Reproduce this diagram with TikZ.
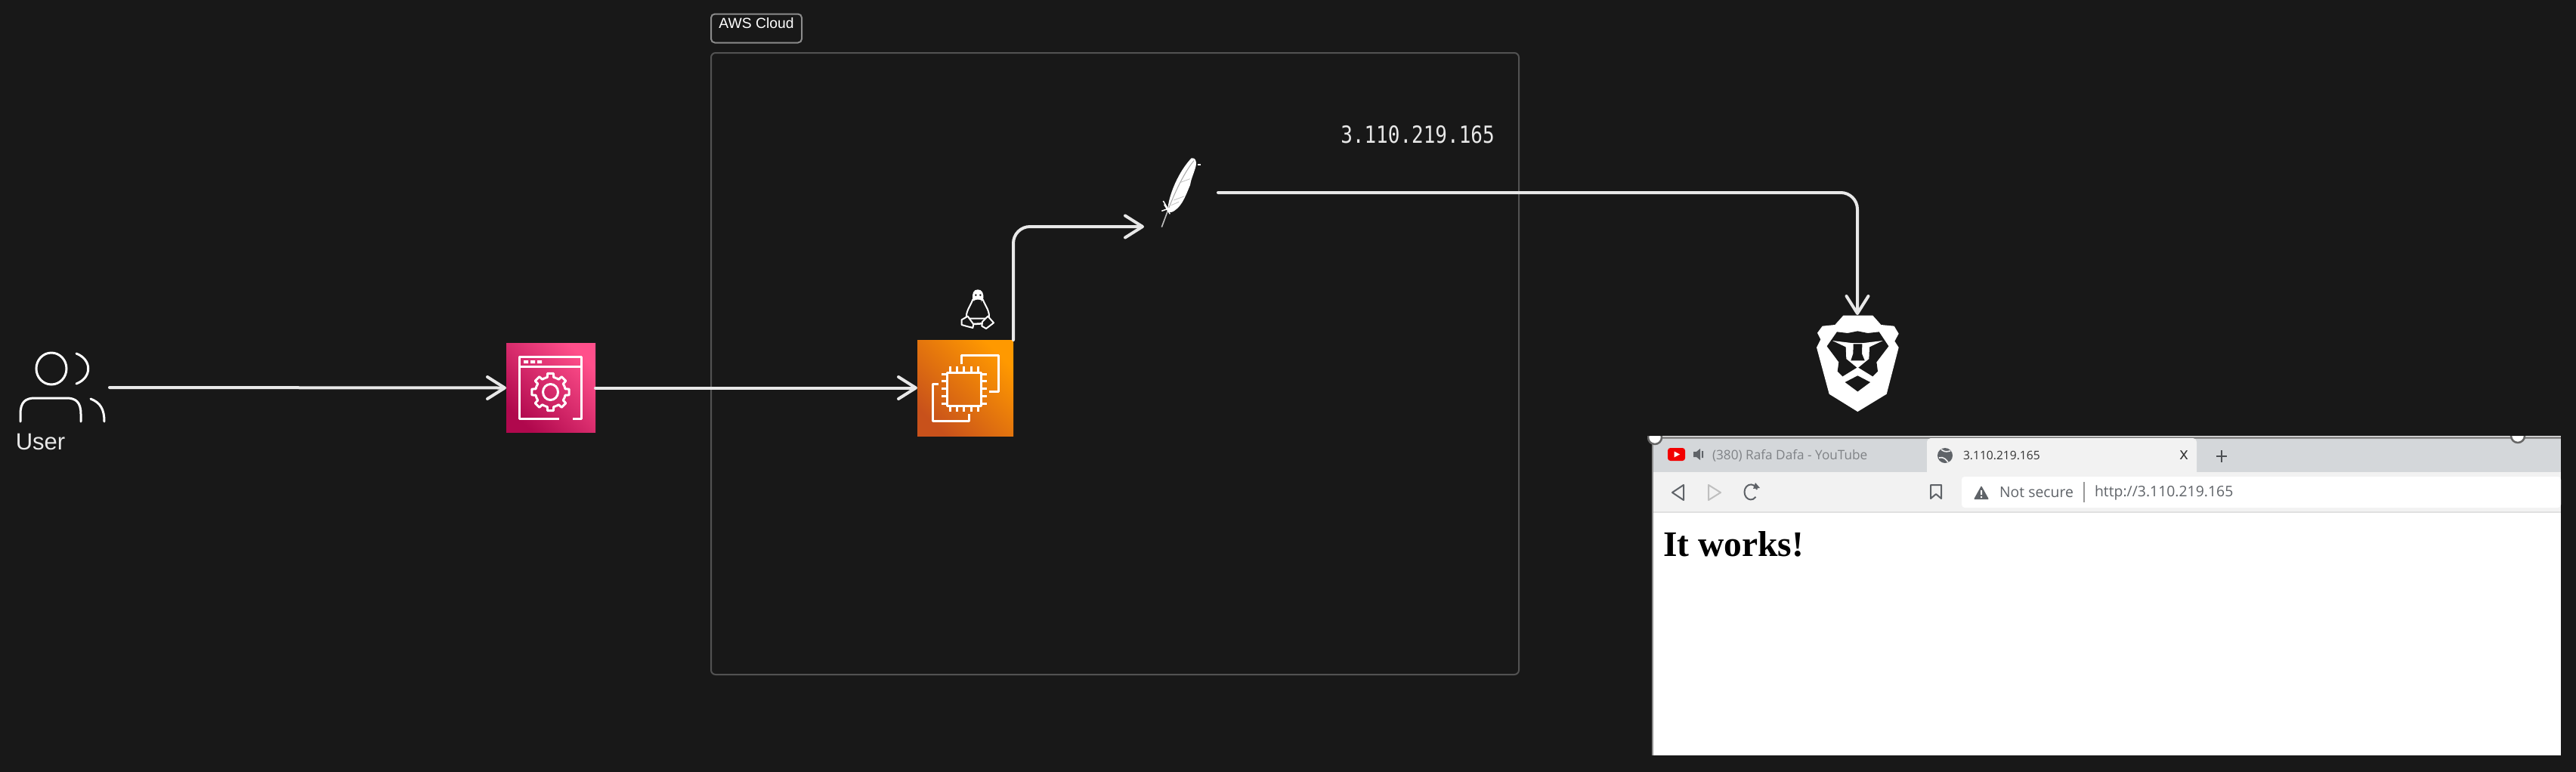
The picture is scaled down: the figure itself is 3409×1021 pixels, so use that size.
\documentclass[tikz,border=0pt]{standalone}
\usepackage{fontspec}
\usepackage{graphicx}
\setmainfont{Liberation Sans}
\newfontfamily\monofam{DejaVu Sans Mono}
\newfontfamily\uifam{Open Sans}
\newfontfamily\serifam{Liberation Serif}
\usetikzlibrary{arrows.meta}
\definecolor{bgdark}{HTML}{181818}
\definecolor{ink}{HTML}{E8E8E8}
\definecolor{tabgrey}{HTML}{D4D7DA}
\definecolor{barlight}{HTML}{F2F2F2}
\definecolor{uigrey}{HTML}{5F6368}
\definecolor{gwlow}{HTML}{B0084D}
\definecolor{gwhigh}{HTML}{FF4F8B}
\definecolor{eclow}{HTML}{C8511B}
\definecolor{echigh}{HTML}{FF9900}
\tikzset{
  flow/.style={draw=ink,line width=4pt,line cap=round,-{Straight Barb[length=23pt,width=29pt,line width=4pt,round]}},
  iconline/.style={draw=white,line width=3pt,line join=round,fill=none},
  sketch/.style={draw=white,line width=3pt,line cap=round,fill=none},
  awsbox/.style={inner sep=0pt,outer sep=0pt,minimum size=#1},
  ghost/.style={inner sep=0pt,outer sep=0pt},
  zoomA/.style={shift={(1180,180)},x=.33333pt,y=-.33333pt},
  zoomB/.style={shift={(2350,380)},x=.33333pt,y=-.33333pt},
  uitext/.style={inner sep=0pt,outer sep=0pt,anchor=west},
}
\begin{document}
\begin{tikzpicture}[x=1pt,y=-1pt]
\useasboundingbox (0,0) rectangle (3409,1021);
\fill[bgdark] (-5,-5) rectangle (3414,1026);

% cloud frame and label
\node[ghost,draw=white!50!bgdark,line width=2pt,rounded corners=5pt,minimum width=120pt,minimum height=38pt] (cloudlabel) at (1001,37.5) {};
\node[ghost,text=white] (cloudtext) at (1001,31) {\fontsize{19.3}{22}\selectfont AWS Cloud};
\node[ghost,draw=white!25!bgdark,line width=2pt,rounded corners=6pt,minimum width=1069pt,minimum height=823pt] (cloud) at (1475.5,481.5) {};
\node[ghost,text=ink] (ipaddr) at (1876,178.5) {\scalebox{1}[1.2]{\monofam\fontsize{26}{28}\selectfont 3.110.219.165}};

% user
\node[ghost,minimum width=118pt,minimum height=91pt] (usr) at (86,513) {};
\draw[sketch] (68,488) ellipse (20 and 21);
\draw[sketch] (101,468) .. controls (122,476) and (122,500) .. (101,508);
\draw[sketch] (27,558) -- (27,548) .. controls (27,532) and (34,527) .. (46,527) -- (88,527) .. controls (100,527) and (107,532) .. (107,548) -- (107,558);
\draw[sketch] (120,528) .. controls (133,533) and (138,542) .. (138,558);
\node[ghost,text=ink] (usrlabel) at (53.5,585) {\fontsize{31}{34}\selectfont User};

% gateway box
\node[awsbox=118pt,bottom color=gwlow,top color=gwhigh,shading angle=-45] (gw) at (729,513.5) {};
\draw[iconline] (740,554) -- (687,554) -- (687,472) -- (769,472) -- (769,554) -- (758,554);
\draw[iconline] (687,485) -- (769,485);
\fill[white] (693,477) rectangle (699,481) (702,477) rectangle (708,481) (711,477) rectangle (717,481);
\begin{scope}[shift={(728.5,519)}]
  \draw[iconline] (0,0) ellipse (10 and 10.5);
  \foreach \a in {0,45,...,315}
    \draw[iconline] (\a-22.5:20) -- (\a-12:20) -- (\a-9:25) -- (\a+9:25) -- (\a+12:20) -- (\a+22.5:20);
\end{scope}

% ec2 box
\node[awsbox=127pt,bottom color=eclow,top color=echigh,shading angle=-45] (ec2) at (1277.5,513.5) {};
\draw[iconline] (1272,482) -- (1272,470) -- (1321,470) -- (1321,518) -- (1309,518);
\draw[iconline] (1242,508) -- (1234,508) -- (1234,557) -- (1282,557) -- (1282,548);
\draw[iconline] (1253,493) rectangle (1298,537);
\foreach \p in {1257,1266,1275.5,1285,1294}
  \draw[iconline] (\p,485) -- (\p,493) (\p,537) -- (\p,545);
\foreach \p in {495,504,514,524,534}
  \draw[iconline] (1246,\p) -- (1253,\p) (1298,\p) -- (1306,\p);

% penguin
\begin{scope}[zoomA]
  \draw[draw=white,line width=2pt,fill=bgdark,line join=round] (322,650) .. controls (310,680) and (292,700) .. (298,725) -- (385,725) .. controls (392,700) and (375,680) .. (362,650) -- cycle;
  \fill[white] (342,610) .. controls (325,610) and (318,625) .. (322,650) .. controls (325,665) and (360,665) .. (363,650) .. controls (368,625) and (358,610) .. (342,610) -- cycle;
  \fill[bgdark] (326,655) .. controls (335,648) and (350,648) .. (358,655) .. controls (350,668) and (335,668) .. (326,655) -- cycle;
  \fill[bgdark] (334,632) circle (4) (352,632) circle (4);
  \draw[draw=white,line width=2pt,fill=bgdark,line join=round] (278,730) -- (302,716) -- (325,748) -- (322,762) -- (295,755) -- (278,750) -- cycle;
  \draw[draw=white,line width=2pt,fill=bgdark,line join=round] (360,738) -- (382,716) -- (405,742) -- (375,765) -- (358,755) -- cycle;
  \draw[draw=white,line width=2.5pt] (325,747) -- (360,745);
\end{scope}

% feather
\begin{scope}[zoomA]
  \fill[white] (1095,300) .. controls (1098,235) and (1140,140) .. (1190,88) .. controls (1205,85) and (1212,100) .. (1208,118) .. controls (1200,150) and (1190,165) .. (1185,195) .. controls (1170,230) and (1155,275) .. (1125,295) .. controls (1115,303) and (1105,306) .. (1095,300) -- cycle;
  \draw[draw=white!65!black,line width=1pt] (1097,295) .. controls (1125,220) and (1165,140) .. (1200,98);
  \draw[draw=white!75!black,line width=.8pt] (1145,185) -- (1185,170) (1120,255) -- (1160,240) (1110,275) -- (1140,262);
  \draw[draw=white!75!black,line width=1.6pt] (1072,362) -- (1097,295);
  \draw[draw=white,line width=1.5pt] (1078,258) -- (1100,295) (1072,298) -- (1108,285) (1082,272) -- (1105,310);
  \fill[white] (1216,112) rectangle (1228,118);
\end{scope}
\coordinate (apacheIn) at (1514,300);
\coordinate (apacheOut) at (1612,255);

% brave
\node[ghost,minimum width=108pt,minimum height=128pt] (brave) at (2458,481) {};
\begin{scope}[zoomB]
  \fill[white] (268,113) -- (385,113) -- (418,150) -- (470,155) -- (488,185) -- (472,215) -- (488,240) -- (440,425) -- (325,495) -- (212,425) -- (162,240) -- (178,208) -- (165,182) -- (185,155) -- (235,150) -- cycle;
  \fill[bgdark] (243,178) -- (285,183) -- (325,175) -- (365,183) -- (410,178) -- (448,235) -- (400,298) -- (405,335) -- (385,355) -- (325,318) -- (265,355) -- (245,335) -- (250,298) -- (203,235) -- cycle;
  \fill[white] (225,213) -- (300,222) -- (350,222) -- (425,213) -- (372,238) -- (370,285) -- (325,322) -- (280,285) -- (278,238) -- cycle;
  \fill[bgdark] (308,226) -- (343,226) -- (342,265) -- (353,292) -- (298,292) -- (307,265) -- cycle;
  \fill[bgdark] (275,378) -- (325,352) -- (375,378) -- (325,415) -- cycle;
\end{scope}

% browser screenshot
\fill[white] (2186,577) rectangle (3389,1000);
\fill[tabgrey] (2188,581) rectangle (3389,625);
\fill[barlight] (2188,625) rectangle (3389,678);
\fill[white] (2596,631) [rounded corners=4pt] -- (3389,631) -- (3389,672) -- (2596,672) -- cycle;
\fill[white!88!black] (2188,677) rectangle (3389,679);
\fill[white!55!black] (2188,578) rectangle (3389,581);
\fill[white!55!black] (2186,578) rectangle (2188,1000);
\fill[barlight,rounded corners=5pt] (2550,630) -- (2550,580) -- (2907,580) -- (2907,630) -- cycle;
\fill[barlight] (2550,625) rectangle (2907,630);
\begin{scope}
  \clip (2180,577) rectangle (3395,600);
  \draw[draw=white!40!black,line width=2.5pt,fill=white] (3332,577) circle (9);
  \draw[draw=white!40!black,line width=2.5pt,fill=white] (2190,579) circle (9);
\end{scope}
\fill[red!95!black,rounded corners=3.5pt] (2207,593) rectangle (2230,610);
\fill[white] (2215.5,597.5) -- (2223,601.5) -- (2215.5,605.5) -- cycle;
\fill[uigrey] (2241,598) -- (2245,598) -- (2250,594) -- (2250,609) -- (2245,605) -- (2241,605) -- cycle (2252,597) rectangle (2254,606);
\node[uitext,text=uigrey!80!white] (tabone) at (2266,603) {\uifam\fontsize{17.2}{19}\selectfont (380) Rafa Dafa - YouTube};
\fill[uigrey] (2574,603) circle (10);
\draw[draw=barlight,line width=1.6pt] (2569,595) .. controls (2575,600) and (2578,597) .. (2581,597) (2566,606) .. controls (2572,604) and (2576,609) .. (2578,612);
\node[uitext,text=black!80!white] (tabtwo) at (2598,603) {\uifam\fontsize{15.6}{18}\selectfont 3.110.219.165};
\node[ghost,text=black!80!white] (tabclose) at (2890,603) {\uifam\fontsize{22}{24}\selectfont x};
\draw[draw=uigrey!80!black,line width=2.2pt] (2933,604) -- (2947,604) (2940,596) -- (2940,612);
\draw[draw=uigrey,line width=2pt,line join=round] (2228,642) -- (2213,652) -- (2228,662) -- cycle;
\draw[draw=white!75!black,line width=2pt,line join=round] (2261,642) -- (2277,652) -- (2261,662) -- cycle;
\draw[draw=uigrey,line width=2pt] (2325,648) arc (-20:-320:8.5 and 10);
\fill[uigrey] (2323,639) -- (2329,646) -- (2320,647) -- cycle;
\draw[draw=uigrey,line width=2pt,line join=round] (2555,642) -- (2569,642) -- (2569,660) -- (2562,654) -- (2555,660) -- cycle;
\fill[uigrey,rounded corners=1pt] (2622,643) -- (2632,661) -- (2612,661) -- cycle;
\fill[white] (2621,649) rectangle (2623,655) (2621,657) rectangle (2623,659);
\node[uitext,text=uigrey] (warntext) at (2646,652) {\uifam\fontsize{19.4}{21}\selectfont Not secure};
\draw[draw=white!60!black,line width=1.2pt] (2758,638) -- (2758,665);
\node[uitext,text=uigrey] (urltext) at (2772,652) {\uifam\fontsize{19.4}{21}\selectfont http://3.110.219.165};
\node[uitext,text=black] (itworks) at (2201,720) {\serifam\bfseries\fontsize{47.5}{50}\selectfont It works!};

% connectors
\draw[flow] (usr.east) -- (gw.west);
\draw[flow] (gw.east) -- (ec2.west);
\draw[flow,rounded corners=22pt] (ec2.north east) |- (apacheIn);
\draw[flow,rounded corners=22pt] (apacheOut) -| (brave.north);
\end{tikzpicture}
\end{document}
